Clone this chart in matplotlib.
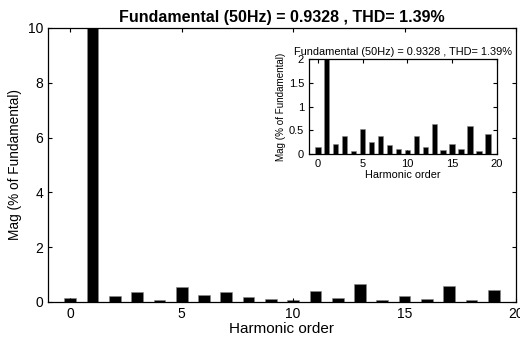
import numpy as np
import matplotlib
matplotlib.use("Agg")
import matplotlib.pyplot as plt

plt.rcParams["font.family"] = ["Liberation Sans", "DejaVu Sans"]

harmonics = np.arange(0, 20)
# magnitude in % of fundamental (h1 = 100)
mags = [0.14, 100.0, 0.22, 0.37, 0.06, 0.53, 0.26, 0.37, 0.18, 0.11,
        0.09, 0.39, 0.14, 0.64, 0.09, 0.22, 0.11, 0.60, 0.07, 0.43]
title = "Fundamental (50Hz) = 0.9328 , THD= 1.39%"
xticks = [0, 5, 10, 15, 20]
main_yticks = [0, 2, 4, 6, 8, 10]
inset_yticks = [0, 0.5, 1, 1.5, 2]
inset_ylabels = ["0", "0.5", "1", "1.5", "2"]


def style(ax, fs):
    ax.tick_params(direction="in", top=True, right=True, length=3,
                   width=0.8, labelsize=fs)
    for s in ax.spines.values():
        s.set_linewidth(0.9)


fig = plt.figure(figsize=(5.2, 3.4), dpi=100)

ax = fig.add_axes([0.0923, 0.1118, 0.9, 0.806])
ax.bar(harmonics, mags, width=0.52, color="black", edgecolor="#888888",
       linewidth=0.4)
ax.set_xlim(-1, 20)
ax.set_ylim(0, 10)
ax.set_xticks(xticks)
ax.set_yticks(main_yticks)
style(ax, 10)
ax.set_title(title, fontsize=11.5, fontweight="bold", pad=4)
ax.set_xlabel("Harmonic order", fontsize=11, labelpad=1)
ax.set_ylabel("Mag (% of Fundamental)", fontsize=9.8, labelpad=4)

ins = fig.add_axes([0.594, 0.547, 0.3615, 0.279])
ins.bar(harmonics, mags, width=0.6, color="black", edgecolor="#888888",
        linewidth=0.4)
ins.set_xlim(-1, 20)
ins.set_ylim(0, 2)
ins.set_xticks(xticks)
ins.set_yticks(inset_yticks)
ins.set_yticklabels(inset_ylabels)
style(ins, 8)
ins.set_title(title, fontsize=7.9, pad=3)
ins.set_xlabel("Harmonic order", fontsize=7.8, labelpad=1)
ins.set_ylabel("Mag (% of Fundamental)", fontsize=7.1, labelpad=2)

fig.savefig("out.png", dpi=100)
